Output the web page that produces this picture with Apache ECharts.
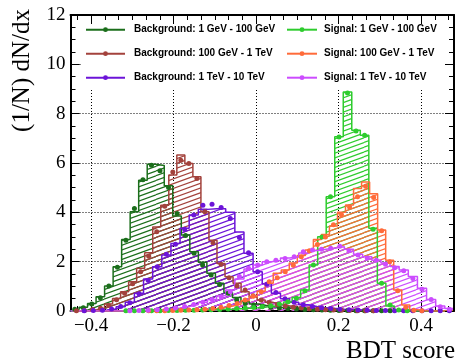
<!DOCTYPE html>
<html><head><meta charset="utf-8">
<script src="https://cdn.jsdelivr.net/npm/echarts@6.0.0/dist/echarts.min.js"></script>
<style>html,body{margin:0;padding:0;background:#fff}#c{width:456px;height:362px}</style>
</head><body><div id="c"></div>
<script>
// ---- binning (data units) ----
const binStartA = -0.45,   binWidthA = 0.02067;  // 1 GeV - 100 GeV BDT
const binStartB = -0.4454, binWidthB = 0.01948;  // 100 GeV - 1 TeV BDT
const binStartC = -0.45,   binWidthC = 0.02214;  // 1 TeV - 10 TeV BDT

const seriesNames = [
  'Background: 1 GeV - 100 GeV', 'Background: 100 GeV - 1 TeV', 'Background: 1 TeV - 10 TeV',
  'Signal: 1 GeV - 100 GeV', 'Signal: 100 GeV - 1 TeV', 'Signal: 1 TeV - 10 TeV'
];
const xTickValues = [-0.4, -0.2, 0, 0.2, 0.4];
const yTickValues = [0, 2, 4, 6, 8, 10, 12];

// histogram (training) values
const bkg1Hist = [0.06,0.15,0.30,0.58,1.01,1.79,2.90,4.02,5.30,5.95, 5.90,5.08,3.85,3.08,2.40,1.98,1.53,1.12,0.75,0.55, 0.38,0.28,0.22,0.17,0.13,0.10,0.08,0.06,0.05,0.04, 0.03,0.02,0.02,0.01,0,0,0,0,0,0, 0,0,0,0,0];
const sig1Hist = [0,0,0,0,0,0,0,0,0,0, 0.01,0.01,0.02,0.02,0.03,0.04,0.05,0.06,0.07,0.09, 0.11,0.13,0.16,0.20,0.27,0.36,0.55,0.85,1.86,3.01, 4.63,7.06,8.88,7.33,7.13,3.35,1.12,0.20,0.03,0, 0,0,0,0,0];
const bkg2Hist = [0.01,0.02,0.05,0.12,0.28,0.51,0.78,1.19,1.73,2.36, 3.41,4.29,5.51,6.32,5.98,5.44,4.02,2.87,1.93,1.39, 1.12,0.78,0.58,0.45,0.35,0.27,0.21,0.16,0.12,0.09, 0.07,0.05,0.04,0.03,0.02,0.01,0.01,0,0,0, 0,0,0,0,0,0,0,0];
const sig2Hist = [0,0,0,0,0,0,0,0,0,0, 0.01,0.01,0.02,0.03,0.04,0.05,0.07,0.10,0.14,0.20, 0.28,0.42,0.58,0.80,1.12,1.53,1.66,1.95,2.25,2.47, 2.90,3.10,3.45,4.00,4.30,4.97,5.23,4.75,3.28,2.06, 0.85,0.24,0.05,0.01,0,0,0,0];
const bkg3Hist = [0,0.01,0.02,0.04,0.08,0.17,0.35,0.72,1.30,1.79, 2.27,2.74,3.35,3.89,4.12,4.15,4.15,4.00,3.20,2.34, 1.59,1.10,0.72,0.50,0.35,0.25,0.18,0.13,0.10,0.07, 0.05,0.04,0.03,0.02,0.02,0.01,0.01,0.01,0.01,0.01, 0.01,0.01];
const sig3Hist = [0,0,0,0,0,0,0.01,0.02,0.03,0.05, 0.08,0.12,0.18,0.26,0.35,0.47,0.62,0.85,1.30,1.70, 1.86,2.00,2.05,2.15,2.20,2.35,2.45,2.50,2.55,2.60, 2.50,2.30,2.20,2.06,1.95,1.80,1.66,1.40,0.92,0.47, 0.20,0.10];

// marker (test) values
const bkg1Pts = [0.07,0.13,0.28,0.54,1.01,1.77,2.87,4.16,5.32,5.91, 5.69,5.01,3.95,3.06,2.34,1.86,1.46,1.07,0.72,0.45, 0.30,0.24,0.19,0.15,0.12,0.10,0.08,0.06,0.05,0.04, 0.03,0.02,0.02,0.01,0.01,0.01,0.01,0.01,0,0, 0,0,0,0,0];
const sig1Pts = [0,0,0,0,0,0,0.01,0.01,0.01,0.01, 0.01,0.02,0.02,0.03,0.03,0.04,0.05,0.06,0.08,0.10, 0.12,0.14,0.17,0.21,0.28,0.38,0.52,0.82,1.86,3.00, 4.63,7.05,8.84,7.30,7.13,3.31,1.12,0.24,0.04,0.01, 0,0,0,0,0];
const bkg2Pts = [0.01,0.02,0.06,0.11,0.22,0.46,0.72,1.10,1.59,2.22, 3.21,4.25,5.64,6.11,5.98,5.37,4.02,2.77,1.90,1.35, 1.01,0.85,0.62,0.45,0.34,0.26,0.20,0.15,0.12,0.09, 0.07,0.05,0.04,0.03,0.02,0.01,0.01,0.01,0,0, 0,0,0,0,0,0,0,0];
const sig2Pts = [0,0,0,0,0,0,0,0,0,0.01, 0.01,0.01,0.02,0.03,0.04,0.05,0.07,0.10,0.15,0.22, 0.30,0.45,0.60,0.78,1.19,1.35,1.59,1.85,2.20,2.44, 2.70,3.00,3.50,3.90,4.22,4.63,5.06,4.60,3.25,2.00, 0.82,0.15,0.03,0.01,0,0,0,0];
const bkg3Pts = [0,0.01,0.02,0.03,0.08,0.18,0.33,0.70,1.25,1.79, 2.30,2.71,3.31,3.89,4.29,4.33,4.20,3.75,2.98,2.36, 1.59,1.08,0.75,0.50,0.35,0.25,0.18,0.13,0.10,0.07, 0.05,0.04,0.03,0.02,0.02,0.01,0.01,0.01,0.01,0.01, 0.01,0.01];
const sig3Pts = [0,0,0,0,0,0,0.01,0.02,0.03,0.05, 0.08,0.12,0.18,0.26,0.35,0.47,0.58,0.78,1.40,1.73, 1.86,2.00,2.06,2.13,2.20,2.40,2.47,2.50,2.54,2.63, 2.44,2.27,2.15,2.06,1.90,1.75,1.63,1.32,0.88,0.47, 0.17,0.07];

const colors = ['#1b6e1b', '#a3423c', '#6c14d8', '#2ecc2e', '#ff6b3a', '#cc4cff'];

const defs = [
  { hist: bkg1Hist, pts: bkg1Pts, start: binStartA, width: binWidthA },
  { hist: bkg2Hist, pts: bkg2Pts, start: binStartB, width: binWidthB },
  { hist: bkg3Hist, pts: bkg3Pts, start: binStartC, width: binWidthC },
  { hist: sig1Hist, pts: sig1Pts, start: binStartA, width: binWidthA },
  { hist: sig2Hist, pts: sig2Pts, start: binStartB, width: binWidthB },
  { hist: sig3Hist, pts: sig3Pts, start: binStartC, width: binWidthC }
];

function hatch(color) {
  const W = 13, H = 4.7;
  const c = document.createElement('canvas');
  c.width = 13 * 4; c.height = 19; // 4 periods wide / ~4 periods tall for smooth tiling
  const g = c.getContext('2d');
  g.strokeStyle = color; g.lineWidth = 1.2;
  const slope = H / W;
  const Hc = c.height, Wc = c.width;
  const period = Hc / 4; // vertical spacing
  for (let n = -8; n <= 12; n++) {
    const y0 = n * period;
    g.beginPath();
    g.moveTo(0, y0);
    g.lineTo(Wc, y0 - Wc * (Hc / Wc) * 1); // rise of Hc over Wc keeps tile seamless
    g.stroke();
  }
  return c;
}

function stepData(start, width, vals) {
  const d = [[start, 0]];
  vals.forEach((v, i) => d.push([start + i * width, v]));
  const end = start + vals.length * width;
  d.push([end, vals[vals.length - 1]]);
  d.push([end, 0]);
  return d;
}
function pointData(start, width, vals) {
  const d = [];
  vals.forEach((v, i) => { if (v > 0) d.push([start + (i + 0.5) * width, v]); });
  return d;
}

const series = [];
defs.forEach((s, k) => {
  series.push({
    name: seriesNames[k], type: 'line', step: 'end', symbol: 'none', clip: true,
    data: stepData(s.start, s.width, s.hist),
    lineStyle: { color: colors[k], width: 1.5 },
    itemStyle: { color: colors[k] },
    areaStyle: { color: { image: hatch(colors[k]), repeat: 'repeat' }, opacity: 1 },
    z: 2, silent: true, animation: false
  });
});
defs.forEach((s, k) => {
  series.push({
    name: seriesNames[k] + ' (test)', type: 'scatter', symbol: 'circle', symbolSize: 5,
    data: pointData(s.start, s.width, s.pts),
    itemStyle: { color: colors[k], opacity: 1 },
    z: 3, silent: true, animation: false
  });
});

const serif = '"Liberation Serif", "DejaVu Serif", serif';
const fmt = v => (v === 0 ? '0' : (v < 0 ? '\u2212' : '') + Math.abs(v).toFixed(1));
const tickStyle = { color: '#000', width: 1 };

const legendCommon = {
  orient: 'vertical', itemHeight: 6, itemGap: 12, padding: 0, selectedMode: false,
  textStyle: { fontFamily: '"Liberation Sans", Arial, sans-serif', fontWeight: 'bold', fontSize: 10, color: '#000', lineHeight: 12 }
};

const option = {
  animation: false,
  backgroundColor: '#fff',
  grid: { left: 70.5, right: 2, top: 15, bottom: 51 },
  xAxis: [
    { type: 'value', position: 'bottom', min: -0.45, max: 0.48, z: 0,
      axisLine: { onZero: false, lineStyle: { color: '#000', width: 2 } },
      axisTick: { inside: true, length: 9, lineStyle: tickStyle },
      minorTick: { show: true, splitNumber: 6, length: 5, lineStyle: tickStyle },
      axisLabel: { showMinLabel: false, showMaxLabel: false, formatter: fmt, fontFamily: serif, fontSize: 19, color: '#000', margin: 6 },
      splitLine: { show: true, lineStyle: { color: '#000', width: 1, type: [1, 2] } } },
    { type: 'value', position: 'top', min: -0.45, max: 0.48, z: 3,
      axisLine: { onZero: false, lineStyle: { color: '#000', width: 2 } },
      axisTick: { inside: true, length: 9, lineStyle: tickStyle },
      minorTick: { show: true, splitNumber: 6, length: 5, lineStyle: tickStyle },
      axisLabel: { show: false }, splitLine: { show: false } }
  ],
  yAxis: [
    { type: 'value', position: 'left', min: 0, max: 12, interval: 2, z: 0,
      axisLine: { onZero: false, lineStyle: { color: '#000', width: 2 } },
      axisTick: { inside: true, length: 9, lineStyle: tickStyle },
      minorTick: { show: true, splitNumber: 4, length: 5, lineStyle: tickStyle },
      axisLabel: { fontFamily: serif, fontSize: 19, color: '#000', margin: 5 },
      splitLine: { show: true, lineStyle: { color: '#000', width: 1, type: [1, 2] } } },
    { type: 'value', position: 'right', min: 0, max: 12, interval: 2, z: 3,
      axisLine: { onZero: false, lineStyle: { color: '#000', width: 2 } },
      axisTick: { inside: true, length: 9, lineStyle: tickStyle },
      minorTick: { show: true, splitNumber: 4, length: 5, lineStyle: tickStyle },
      axisLabel: { show: false }, splitLine: { show: false } }
  ],
  legend: [
    Object.assign({}, legendCommon, { data: seriesNames.slice(0, 3), left: 85, top: 23.7, itemWidth: 39,
      textStyle: Object.assign({}, legendCommon.textStyle, { padding: [0, 0, 0, 4] }) }),
    Object.assign({}, legendCommon, { data: seriesNames.slice(3), left: 286, top: 23.7, itemWidth: 30,
      textStyle: Object.assign({}, legendCommon.textStyle, { padding: [0, 0, 0, 2] }) })
  ],
  graphic: [
    { type: 'rect', shape: { x: 82, y: 16, width: 370, height: 74 }, style: { fill: '#fff' }, z: 1, silent: true },
    { type: 'text', x: 22, y: 9, rotation: Math.PI / 2, z: 5,
      style: { text: '(1/N) dN/dx', font: '25px ' + serif, fill: '#000', align: 'right', verticalAlign: 'middle' } },
    { type: 'text', x: 455, y: 351, z: 5,
      style: { text: 'BDT score', font: '25px ' + serif, fill: '#000', align: 'right', verticalAlign: 'middle' } }
  ],
  series: series
};

const chart = echarts.init(document.getElementById('c'), null, { renderer: 'canvas' });
chart.setOption(option);
</script>
</body></html>
